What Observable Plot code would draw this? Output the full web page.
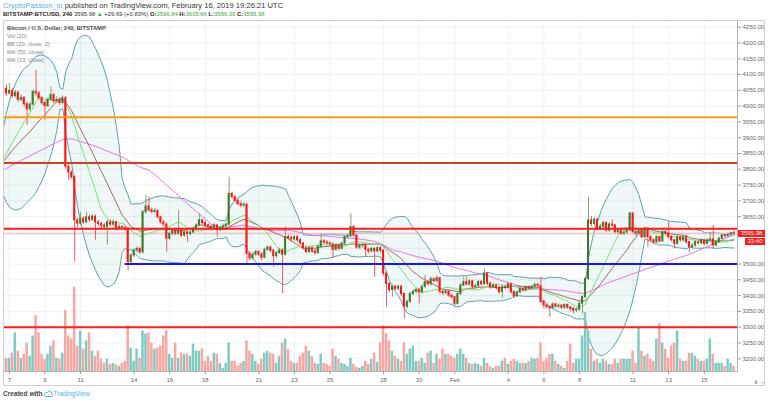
<!DOCTYPE html>
<html><head><meta charset="utf-8">
<script src="https://cdn.jsdelivr.net/npm/d3@7"></script>
<script src="https://cdn.jsdelivr.net/npm/@observablehq/plot@0.6"></script>
<style>
body{margin:0;background:#fff;width:768px;height:401px;overflow:hidden;position:relative;font-family:"Liberation Sans",Arial,sans-serif}
.abs{position:absolute;white-space:nowrap}
#h1{left:3px;top:1px;font-size:7.6px;color:#333}
#h2{left:3px;top:10.5px;font-size:5.9px;color:#333}
#h1 .u{color:#4db3e6}
#h2 b{font-weight:700;color:#222}
#h2 .g{color:#43a63f}
#legend{left:7px;top:24px;font-size:5.8px;line-height:8px;color:#8a8a8a}
#legend .t{color:#4d4d4d;font-weight:700}
#border{left:3px;top:20px;width:760px;height:364px;border:1px solid #cfcfcf;pointer-events:none}
#foot{left:3px;top:390px;font-size:6.6px;color:#444;font-weight:600}
#foot .tv{color:#4db3e6;font-weight:400}
.tag{position:absolute;background:#ff1a1a;color:#fff;font-size:6px;line-height:7px;text-align:center}
</style></head><body>
<div id="h1" class="abs"><span class="u">CryptoPassion_io</span> published on TradingView.com, February 16, 2019 19:26:21 UTC</div>
<div id="h2" class="abs"><b>BITSTAMP:BTCUSD, 240</b> 3595.98 <span class="g">▲</span> +29.69 (+0.83%) <b>O:</b><span class="g">3596.84</span> <b>H:</b><span class="g">3605.66</span> <b>L:</b><span class="g">3586.39</span> <b>C:</b><span class="g">3595.98</span></div>
<div id="chart" class="abs" style="left:0;top:20px"></div>
<div id="border" class="abs"></div>
<div id="legend" class="abs"><div class="t">Bitcoin / U.S. Dollar, 240, BITSTAMP</div><div>Vol (20)</div><div>BB (20, close, 2)</div><div>MA (50, close)</div><div>MA (13, close)</div></div>
<div id="foot" class="abs">Created with <svg width="9" height="7" viewBox="0 0 9 7" style="vertical-align:-1px"><path d="M1.5 6.5h6a1.5 1.5 0 0 0 0-3 2.2 2.2 0 0 0-4.2-1 1.6 1.6 0 0 0-1.8 4z" fill="none" stroke="#4db3e6" stroke-width="1"/></svg><span class="tv">TradingView</span></div>
<script>
// ---- data: BTCUSD 4h candles, first candle Jan 6 2019 16:00 UTC ----
const firstCandle = "2019-01-06T16:00:00Z";
const firstOpen = 3828;
const closes = [4055,4040,4048,4032,4042,4020,4026,4006,3990,4005,
 4045,4040,4025,4010,4000,4020,4035,4015,4020,4010,
 4025,3808,3790,3775,3638,3628,3643,3632,3648,3640,
 3650,3632,3627,3622,3618,3632,3625,3632,3612,3617,
 3615,3612,3506,3527,3543,3548,3537,3664,3682,3670,
 3665,3668,3648,3632,3625,3580,3596,3606,3596,3606,
 3590,3600,3595,3600,3610,3622,3638,3630,3622,3618,
 3612,3622,3608,3615,3620,3625,3722,3712,3700,3690,
 3685,3688,3532,3518,3530,3538,3530,3520,3545,3552,
 3542,3525,3535,3543,3530,3585,3582,3578,3585,3575,
 3565,3550,3538,3550,3540,3535,3555,3572,3568,3565,
 3562,3545,3560,3548,3565,3585,3588,3617,3590,3552,
 3558,3560,3545,3540,3548,3540,3550,3542,3470,3437,
 3418,3428,3422,3428,3405,3365,3380,3405,3412,3418,
 3410,3428,3443,3436,3452,3446,3455,3412,3408,3413,
 3400,3395,3374,3405,3432,3443,3435,3445,3427,3430,
 3443,3436,3469,3438,3427,3432,3425,3411,3427,3424,
 3436,3411,3398,3410,3421,3416,3427,3422,3428,3434,
 3430,3380,3369,3364,3360,3372,3365,3368,3362,3370,
 3362,3358,3353,3356,3374,3395,3453,3638,3627,3640,
 3612,3618,3630,3606,3625,3622,3601,3605,3596,3600,
 3606,3660,3601,3596,3606,3585,3612,3585,3575,3569,
 3585,3572,3601,3596,3585,3575,3564,3585,3575,3585,
 3569,3553,3558,3569,3566,3575,3564,3575,3578,3559,
 3569,3580,3590,3588,3592,3596.84,3595.98];
const highs = [4085,4068,4072,4055,4050,4048,4036,4030,4012,4012,
 4052,4113,4046,4030,4016,4026,4060,4040,4030,4026,
 4032,4030,3815,3795,3780,3645,3664,3650,3664,3655,
 3656,3655,3638,3632,3628,3638,3640,3640,3636,3625,
 3622,3620,3615,3532,3548,3555,3552,3670,3717,3712,
 3678,3676,3672,3652,3638,3630,3602,3612,3612,3670,
 3610,3606,3604,3606,3615,3628,3659,3642,3635,3627,
 3622,3628,3626,3620,3626,3630,3775,3728,3716,3706,
 3698,3695,3692,3538,3536,3544,3542,3536,3550,3558,
 3558,3546,3540,3550,3548,3617,3592,3588,3590,3590,
 3580,3568,3554,3555,3554,3546,3560,3596,3578,3574,
 3570,3566,3565,3564,3570,3590,3595,3659,3622,3594,
 3565,3566,3564,3550,3554,3552,3556,3555,3546,3474,
 3440,3434,3432,3434,3432,3408,3386,3410,3418,3424,
 3422,3434,3464,3448,3458,3456,3462,3458,3416,3418,
 3416,3405,3398,3410,3438,3459,3459,3450,3448,3436,
 3448,3448,3485,3472,3442,3438,3436,3428,3432,3432,
 3440,3440,3415,3415,3426,3425,3432,3430,3434,3440,
 3438,3458,3384,3374,3368,3378,3376,3374,3372,3375,
 3374,3366,3362,3362,3380,3400,3460,3712,3650,3648,
 3645,3625,3636,3634,3630,3640,3626,3612,3610,3606,
 3612,3664,3662,3606,3612,3610,3616,3615,3590,3580,
 3590,3588,3606,3606,3633,3590,3578,3590,3588,3590,
 3590,3572,3564,3574,3574,3580,3578,3580,3601,3622,
 3574,3585,3595,3594,3598,3602,3605.66];
const lows = [3825,4030,4035,4025,4026,4012,4014,3998,3939,3982,
 4000,4032,4018,4002,3955,3995,4015,4008,4008,4002,
 4005,3800,3764,3768,3506,3615,3622,3625,3628,3632,
 3635,3575,3620,3612,3608,3559,3618,3620,3605,3606,
 3608,3604,3480,3498,3520,3535,3530,3532,3658,3664,
 3658,3660,3642,3625,3618,3538,3575,3590,3590,3592,
 3584,3585,3569,3590,3596,3605,3618,3624,3615,3610,
 3604,3608,3585,3602,3610,3614,3620,3705,3694,3684,
 3678,3678,3501,3510,3512,3524,3524,3510,3516,3540,
 3536,3490,3518,3530,3406,3525,3575,3570,3572,3570,
 3560,3545,3532,3533,3534,3528,3530,3550,3562,3560,
 3555,3517,3540,3542,3544,3560,3580,3584,3585,3546,
 3545,3550,3522,3532,3535,3458,3535,3536,3462,3364,
 3410,3395,3415,3416,3398,3326,3358,3375,3400,3406,
 3374,3405,3422,3430,3430,3440,3440,3405,3400,3402,
 3394,3388,3368,3370,3400,3428,3430,3430,3420,3420,
 3425,3430,3432,3432,3420,3422,3418,3405,3390,3418,
 3420,3405,3390,3394,3405,3410,3412,3416,3418,3424,
 3425,3375,3358,3358,3332,3355,3360,3360,3355,3356,
 3356,3350,3342,3346,3350,3342,3390,3448,3618,3620,
 3605,3606,3612,3600,3600,3615,3596,3596,3590,3590,
 3594,3602,3596,3588,3590,3580,3580,3553,3570,3562,
 3565,3566,3568,3590,3580,3570,3548,3560,3570,3570,
 3564,3538,3548,3554,3560,3562,3558,3560,3570,3548,
 3555,3565,3576,3582,3584,3588,3586.39];
const volume = [45,13,13,18,38,20,13,17,28,15,
 35,55,38,17,12,17,25,30,13,12,
 18,60,35,32,83,25,40,22,30,38,
 20,15,20,12,8,12,7,8,7,5,
 8,10,45,23,10,22,13,40,37,38,
 28,22,23,25,35,40,17,13,28,13,
 18,17,17,15,27,20,20,22,10,15,
 10,18,17,8,3,8,28,10,10,5,
 8,10,30,20,17,10,7,12,18,20,
 18,17,8,15,28,32,22,10,8,8,
 15,18,25,20,15,8,7,17,8,7,
 5,22,15,12,8,7,5,13,7,4,
 3,5,10,7,12,18,9,28,45,37,
 30,20,15,12,10,28,17,22,25,10,
 10,13,8,18,20,8,17,12,22,17,
 17,15,13,17,22,17,13,8,7,8,
 7,5,13,8,5,3,5,5,10,13,
 7,10,12,10,8,8,8,10,13,12,
 13,28,10,13,17,17,10,7,5,3,
 10,27,8,12,12,35,58,40,22,10,
 12,8,12,10,7,7,12,8,12,12,
 12,12,20,8,43,20,15,17,12,10,
 32,47,28,22,13,25,28,40,12,10,
 10,18,18,15,12,10,10,12,32,17,
 8,8,8,5,12,8,5];
// closes before the visible window (warm-up for MA / BB, read from indicator start levels)
const priorCloses = [3770,3775,3768,3780,3785,3778,3772,3765,3770,3782,
 3790,3786,3780,3775,3770,3778,3785,3792,3788,3780,
 3775,3770,3768,3774,3780,3785,3790,3782,3778,
 3795,3805,3812,3808,3815,3820,3812,3806,3810,3818,
 3822,3815,3808,3812,3806,3800,3810,3815,3820,3828];
// drawn horizontal levels
const levelOrange = 3965, levelDarkRed = 3820, levelRed = 3612, levelBlue = 3500, levelRedLow = 3300;
const blueStartCandle = 41;
const lastPrice = 3595.98, countdown = "33:40";
const tickDates = ["2019-01-07","2019-01-09","2019-01-11","2019-01-14","2019-01-16","2019-01-18","2019-01-21","2019-01-23","2019-01-25","2019-01-28","2019-01-30","2019-02-01","2019-02-04","2019-02-06","2019-02-08","2019-02-11","2019-02-13","2019-02-15"];
const tickLabels = ["7","9","11","14","16","18","21","23","25","28","30","Feb","4","6","8","11","13","15"];
const priceTicks = d3.range(3200, 4251, 50);
const hiddenPriceLabels = [3550, 3600]; // covered by the last-price tags

// ---- build ----
const H4 = 4 * 3600 * 1000, t0 = new Date(firstCandle).getTime();
const N = closes.length;
const candles = d3.range(N).map(k => ({k, o: k ? closes[k-1] : firstOpen, c: closes[k], h: highs[k], l: lows[k], v: volume[k]}));
candles.forEach(d => d.up = d.c >= d.o);
const all = priorCloses.concat(closes), P = priorCloses.length;
const sma = (n, i) => d3.mean(all.slice(i - n + 1, i + 1));
const ind = d3.range(N).map(k => {
  const i = k + P, m = sma(20, i);
  const sd = Math.sqrt(d3.mean(all.slice(i - 19, i + 1), x => (x - m) ** 2));
  return {k, ma13: sma(13, i), ma50: sma(50, i), basis: m, upper: m + 2 * sd, lower: m - 2 * sd};
});
const tickK = tickDates.map(s => (new Date(s + "T00:00:00Z").getTime() - t0) / H4);
const yDom = [3159.7, 4271.2];
const volFrac = 0.24, vMax = d3.max(volume);
const volTop = d => yDom[0] + (d.v / vMax) * volFrac * (yDom[1] - yDom[0]);
const hw = 0.34;
const labelTicks = priceTicks.filter(p => !hiddenPriceLabels.includes(p));

const grid = "#edf2f6";
const plot = Plot.plot({
  width: 768, height: 366,
  marginLeft: 3, marginRight: 31, marginTop: 0, marginBottom: 15,
  style: {fontFamily: "'Liberation Sans', Arial, sans-serif", background: "transparent"},
  x: {type: "linear", domain: [0.034, 247.17]},
  y: {domain: yDom},
  marks: [
    Plot.ruleY(priceTicks, {stroke: grid}),
    Plot.ruleX(tickK, {stroke: grid}),
    Plot.areaY(ind, {x: "k", y1: "lower", y2: "upper", fill: "#1a8b8b", fillOpacity: 0.07, clip: true}),
    Plot.line(ind, {x: "k", y: "upper", stroke: "#5d9fae", strokeWidth: 1, clip: true}),
    Plot.line(ind, {x: "k", y: "lower", stroke: "#5d9fae", strokeWidth: 1, clip: true}),
    Plot.rect(candles, {x1: d => d.k - 0.42, x2: d => d.k + 0.42, y1: yDom[0], y2: volTop, fill: d => d.up ? "#7fcbc2" : "#f7a6a4", clip: true}),
    Plot.ruleY([lastPrice], {stroke: "#f6b2b2", strokeWidth: 1}),
    Plot.line(ind, {x: "k", y: "ma50", stroke: "#ec6ff0", strokeWidth: 1, clip: true}),
    Plot.line(ind, {x: "k", y: "basis", stroke: "#a8655f", strokeWidth: 1, clip: true}),
    Plot.line(ind, {x: "k", y: "ma13", stroke: "#78e26e", strokeWidth: 1, clip: true}),
    Plot.ruleX(candles, {x: "k", y1: "l", y2: "h", stroke: d => d.up ? "#84a36a" : "#f25a5a", strokeWidth: 1, clip: true}),
    Plot.rect(candles, {x1: d => d.k - hw, x2: d => d.k + hw, y1: "o", y2: "c", insetTop: -0.5, insetBottom: -0.5, fill: d => d.up ? "#3c7a2b" : "#ff1414", clip: true}),
    Plot.ruleY([levelOrange], {stroke: "#ff9a0a", strokeWidth: 2}),
    Plot.ruleY([levelDarkRed], {stroke: "#d2401f", strokeWidth: 2}),
    Plot.ruleY([levelRed], {stroke: "#ff1a1a", strokeWidth: 2}),
    Plot.ruleY([levelRedLow], {stroke: "#ff1a1a", strokeWidth: 2}),
    Plot.ruleY([levelBlue], {x1: blueStartCandle, x2: 247.17, stroke: "#1414ff", strokeWidth: 2}),
    Plot.frame({stroke: "#b4b4b4"}),
    Plot.axisY({anchor: "right", ticks: labelTicks, tickFormat: d => d.toFixed(2), tickSize: 3, tickPadding: 2, fontSize: 6, color: "#666", stroke: "#999"}),
    Plot.axisX({anchor: "bottom", ticks: tickK, tickFormat: (d, i) => tickLabels[i], tickSize: 3, tickPadding: 3, fontSize: 6, color: "#666", stroke: "#999"})
  ]
});
document.getElementById("chart").appendChild(plot);
const yp = plot.scale("y").apply(lastPrice) + 20;
const t1 = document.createElement("div"); t1.className = "tag";
Object.assign(t1.style, {left: "738px", top: (yp - 3.5) + "px", width: "27px", height: "7px"}); t1.textContent = lastPrice.toFixed(2);
const t2 = document.createElement("div"); t2.className = "tag";
Object.assign(t2.style, {left: "745px", top: (yp + 5) + "px", width: "20px", height: "7px"}); t2.textContent = countdown;
document.body.appendChild(t1); document.body.appendChild(t2);
</script>
</body></html>
